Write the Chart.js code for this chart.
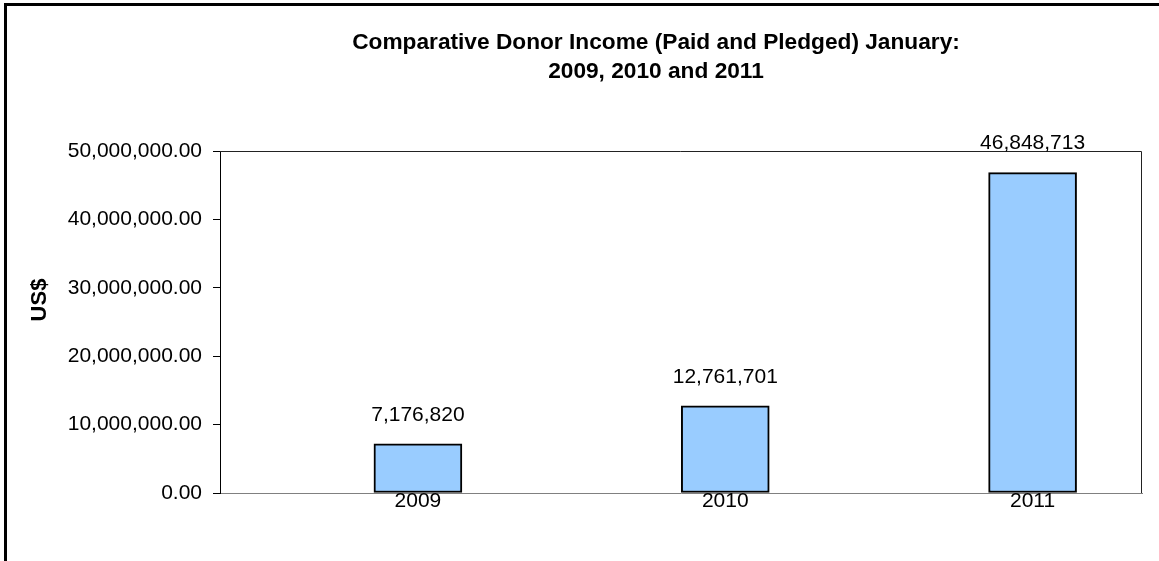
<!DOCTYPE html>
<html>
<head>
<meta charset="utf-8">
<script src="https://cdn.jsdelivr.net/npm/chart.js@4"></script>
<style>
  html, body { margin: 0; padding: 0; background: #fff; }
  #wrap { width: 1159px; height: 561px; position: relative; }
</style>
</head>
<body>
<div id="wrap"><canvas id="barChart"></canvas></div>
<script>
const years = ['2009', '2010', '2011'];
const income = [7176820, 12761701, 46848713];
const titleLines = ['Comparative Donor Income (Paid and Pledged) January:', '2009, 2010 and 2011'];
const yTitle = 'US$';

const FONT = "'Liberation Sans', Arial, sans-serif";

// frame, title, axis title, data labels
const extras = {
    id: 'extras',
    beforeDraw(chart) {
        const c = chart.ctx;
        c.save();
        c.fillStyle = '#fff';
        c.fillRect(0, 0, chart.width, chart.height);
        c.fillStyle = '#000';
        c.fillRect(4, 3, chart.width - 4, 3);
        c.fillRect(4, 3, 3, chart.height - 3);
        c.restore();
    },
    beforeDatasetsDraw(chart) {
        const a = chart.chartArea, c = chart.ctx;
        c.save();
        c.strokeStyle = '#222';
        c.lineWidth = 1;
        c.beginPath();
        c.moveTo(a.left, a.top + 0.5);
        c.lineTo(a.right - 0.5, a.top + 0.5);
        c.lineTo(a.right - 0.5, a.bottom);
        c.stroke();
        c.restore();
    },
    afterDraw(chart) {
        const c = chart.ctx;
        c.save();
        c.fillStyle = '#000';
        c.textAlign = 'center';
        c.textBaseline = 'middle';
        c.font = 'bold 22.7px ' + FONT;
        c.fillText(titleLines[0], 656, 43);
        c.fillText(titleLines[1], 656, 72);

        c.translate(40, 300);
        c.rotate(-Math.PI / 2);
        c.font = 'bold 22px ' + FONT;
        c.fillText(yTitle, 0, 0);
        c.restore();

        c.save();
        c.font = '21px ' + FONT;
        c.fillStyle = '#000';
        c.textAlign = 'center';
        c.textBaseline = 'middle';
        chart.getDatasetMeta(0).data.forEach((bar, i) => {
            c.fillText(income[i].toLocaleString('en-US'), bar.x, bar.y - 29);
        });
        c.restore();
    }
};

const ctx = document.getElementById('barChart');

new Chart(ctx, {
    type: 'bar',
    data: {
        datasets: [{
            label: 'Income',
            data: income.map((v, i) => ({ x: i, y: v })),
            backgroundColor: '#99CCFF',
            borderColor: '#000',
            borderWidth: 2,
            borderSkipped: false,
            barThickness: 88
        }]
    },
    options: {
        responsive: true,
        maintainAspectRatio: false,
        animation: false,
        layout: { padding: { top: 151, left: 0, right: 17, bottom: 0 } },
        plugins: {
            legend: { display: false },
            title: { display: false },
            tooltip: { enabled: false }
        },
        scales: {
            x: {
                type: 'linear',
                offset: false,
                min: -0.644,
                max: 2.356,
                grid: { display: false },
                border: { color: '#808080', width: 1 },
                afterBuildTicks(scale) {
                    scale.ticks = years.map((_, i) => ({ value: i }));
                },
                ticks: {
                    padding: -12,
                    autoSkip: false,
                    maxRotation: 0,
                    color: '#000',
                    font: { family: FONT, size: 21 },
                    callback: v => years[v] ?? ''
                },
                afterFit(scale) { scale.height = 68; }
            },
            y: {
                min: 0,
                max: 50000000,
                grid: { drawOnChartArea: false, tickLength: 7, color: '#000' },
                border: { color: '#000', width: 1 },
                ticks: {
                    stepSize: 10000000,
                    padding: 11,
                    color: '#000',
                    font: { family: FONT, size: 21 },
                    callback: v => v.toLocaleString('en-US', { minimumFractionDigits: 2, maximumFractionDigits: 2 })
                },
                afterFit(scale) { scale.width = 220; }
            }
        }
    },
    plugins: [extras]
});
</script>
</body>
</html>
